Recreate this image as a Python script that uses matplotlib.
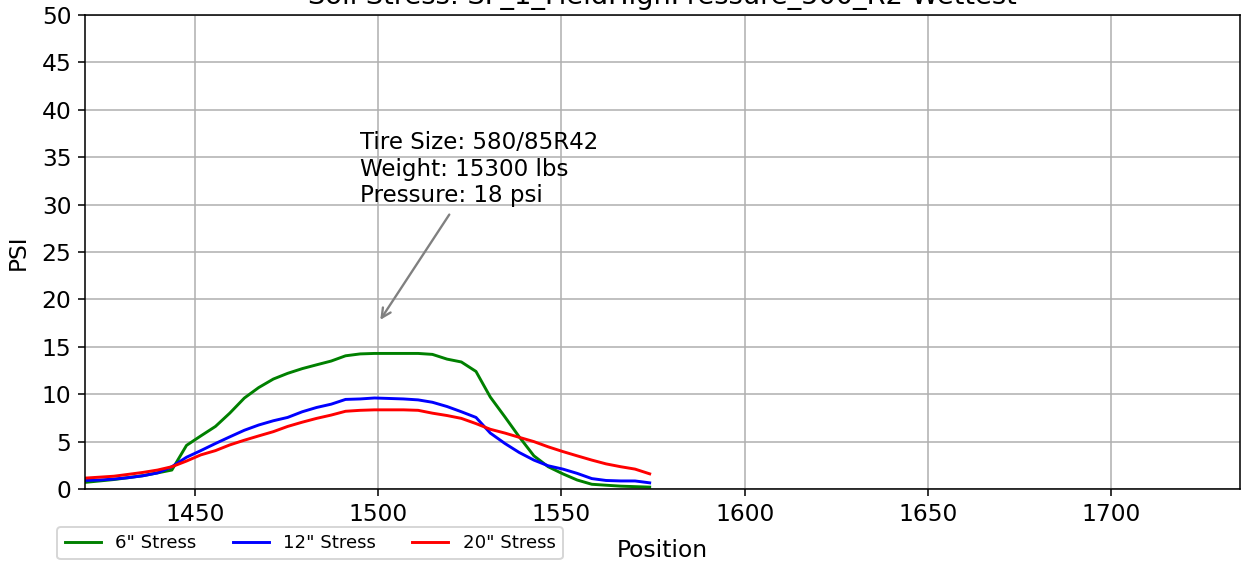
import matplotlib
matplotlib.use("Agg")
import matplotlib.pyplot as plt

# posiciones a lo largo de la pasada
position = [1420.0, 1424.0, 1427.9, 1431.9, 1435.8, 1439.8, 1443.7, 1447.7, 1451.6, 1455.6,
            1459.5, 1463.5, 1467.4, 1471.4, 1475.3, 1479.3, 1483.2, 1487.2, 1491.1, 1495.1,
            1499.0, 1503.0, 1506.9, 1510.9, 1514.8, 1518.8, 1522.7, 1526.7, 1530.6, 1534.6,
            1538.5, 1542.5, 1546.4, 1550.4, 1554.3, 1558.3, 1562.2, 1566.2, 1570.1, 1574.1]

stress_6 = [0.7, 0.85, 1.0, 1.2, 1.4, 1.7, 2.0, 4.6, 5.6, 6.6,
            8.0, 9.6, 10.7, 11.6, 12.2, 12.7, 13.1, 13.5, 14.05, 14.25,
            14.3, 14.3, 14.3, 14.3, 14.2, 13.7, 13.4, 12.4, 9.7, 7.6,
            5.5, 3.5, 2.35, 1.6, 0.95, 0.5, 0.4, 0.3, 0.25, 0.2]

stress_12 = [0.9, 0.95, 1.05, 1.2, 1.4, 1.7, 2.35, 3.35, 4.05, 4.8,
             5.5, 6.2, 6.75, 7.2, 7.55, 8.15, 8.6, 8.95, 9.45, 9.5,
             9.6, 9.55, 9.5, 9.4, 9.15, 8.7, 8.15, 7.55, 5.9, 4.8,
             3.85, 3.05, 2.45, 2.1, 1.65, 1.1, 0.9, 0.85, 0.85, 0.65]

stress_20 = [1.15, 1.25, 1.35, 1.55, 1.75, 2.0, 2.35, 2.95, 3.6, 4.05,
             4.65, 5.15, 5.6, 6.05, 6.6, 7.05, 7.45, 7.8, 8.2, 8.3,
             8.35, 8.35, 8.35, 8.3, 8.0, 7.75, 7.45, 6.9, 6.3, 5.9,
             5.45, 5.0, 4.45, 3.95, 3.5, 3.05, 2.65, 2.35, 2.1, 1.6]

info = "Tire Size: 580/85R42\nWeight: 15300 lbs\nPressure: 18 psi"
titulo = "Soil Stress: SF_1_FieldHighPressure_500_R2 Wettest"

fig = plt.figure(figsize=(1241 / 140, 565 / 140), dpi=140)
ax = fig.add_axes([0.0685, 0.1345, 0.9307, 0.839])

ax.plot(position, stress_6, color="green", lw=1.5, label='6" Stress')
ax.plot(position, stress_12, color="blue", lw=1.5, label='12" Stress')
ax.plot(position, stress_20, color="red", lw=1.5, label='20" Stress')

ax.set_xlim(1420, 1735.2)
ax.set_ylim(0, 50)
ax.set_xticks([1450, 1500, 1550, 1600, 1650, 1700])
ax.set_yticks(range(0, 51, 5))
ax.tick_params(labelsize=12)
ax.set_xlabel("Position", fontsize=12, labelpad=7)
ax.set_ylabel("PSI", fontsize=12, labelpad=6)
ax.grid(True)
# el título queda cortado arriba, como en la imagen original
ax.set_title(titulo, fontsize=14, pad=0, y=1.0232)

ax.annotate(info, xy=(1500, 17.5), xytext=(1495, 29.7), fontsize=11.8,
            va="bottom", ha="left",
            arrowprops=dict(arrowstyle="->", color="gray", lw=1.2))

ax.legend(loc="upper left", bbox_to_anchor=(-0.024, -0.080), ncol=3,
          borderaxespad=0, fontsize=9.3)

fig.savefig("out.png", dpi=140)
